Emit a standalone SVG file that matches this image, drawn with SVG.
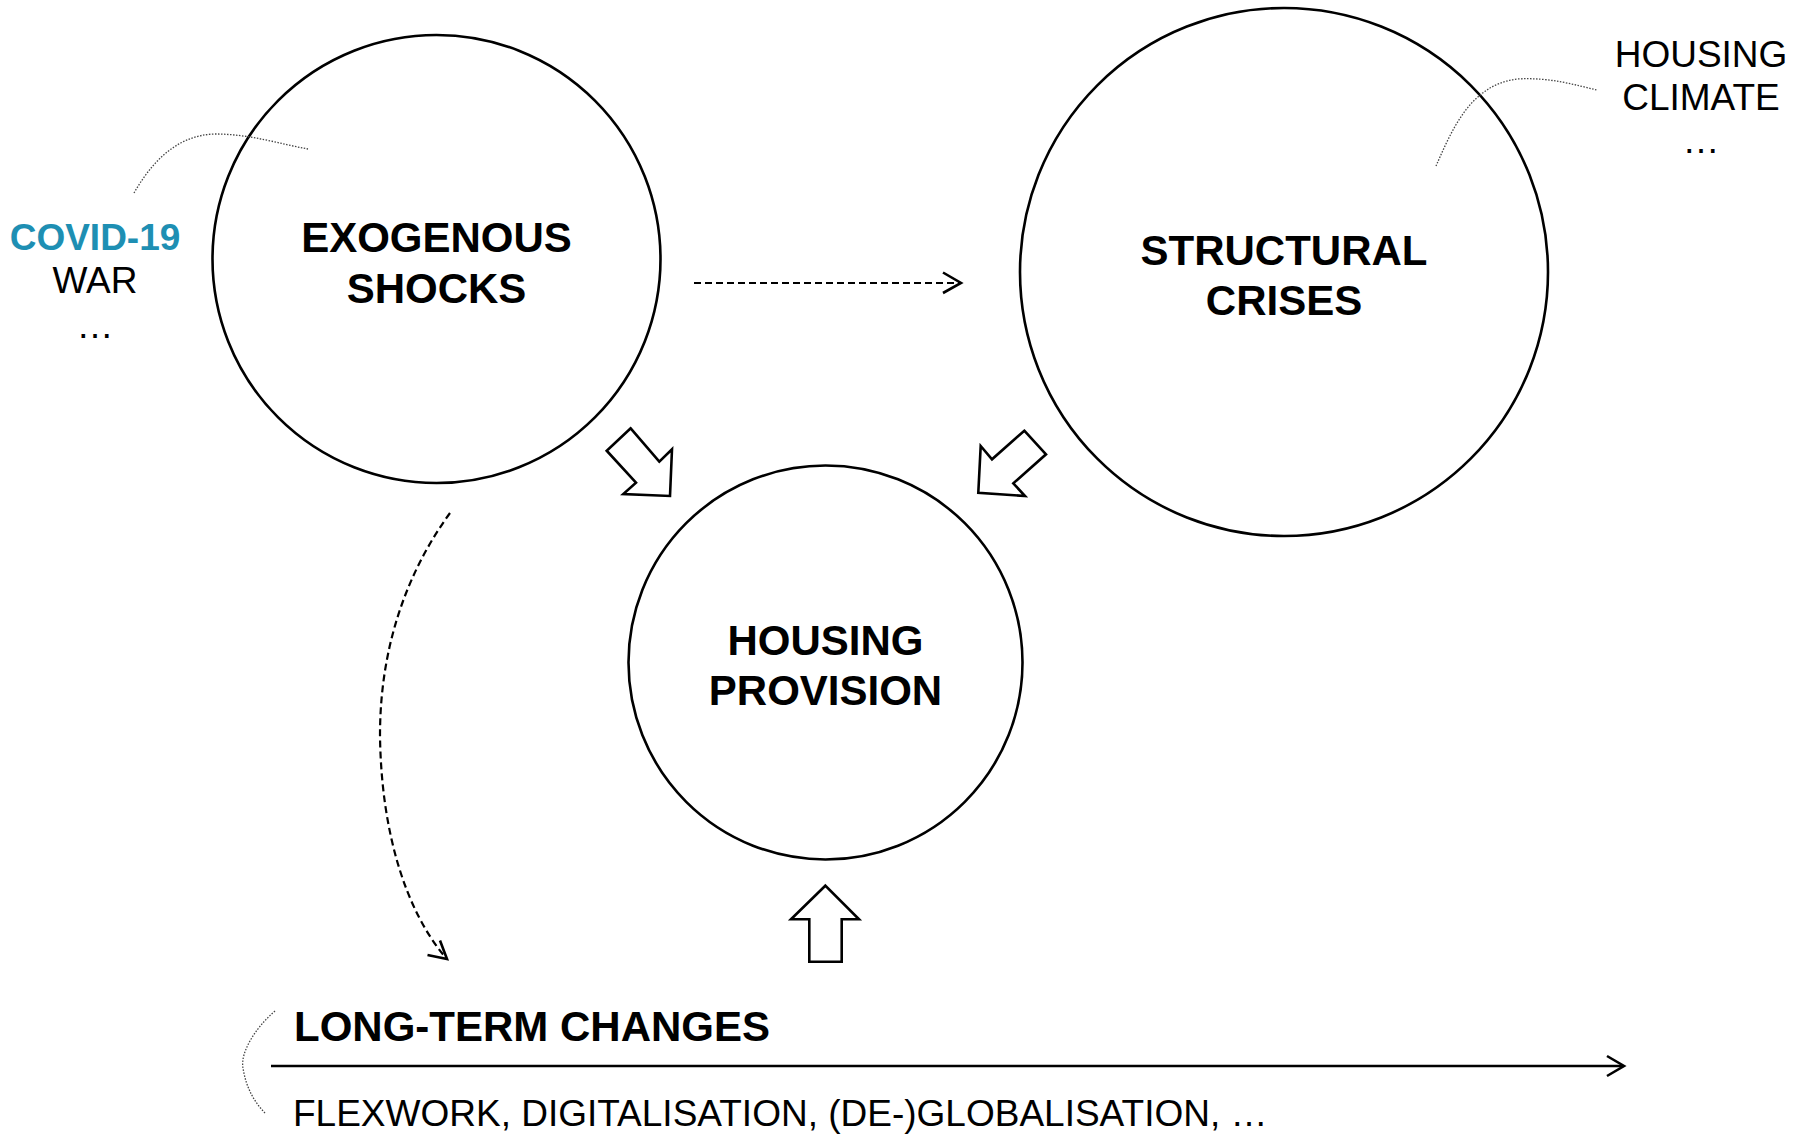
<svg xmlns="http://www.w3.org/2000/svg" width="1806" height="1134" viewBox="0 0 1806 1134">
<defs>
<style>
.node{fill:none;stroke:#000;stroke-width:2.6}
.big{font-family:"Liberation Sans",Arial,sans-serif;font-weight:bold;font-size:42px;fill:#000;text-anchor:middle}
.lbl{font-family:"Liberation Sans",Arial,sans-serif;font-size:37px;fill:#000;text-anchor:middle}
.dot{fill:none;stroke:#444;stroke-width:1.3;stroke-dasharray:1.5 1.5}
.dash{fill:none;stroke:#000;stroke-width:2.2;stroke-dasharray:7 4}
.solid{fill:none;stroke:#000;stroke-width:2.6}
.fat{fill:#fff;stroke:#000;stroke-width:2.6;stroke-linejoin:miter}
</style>
</defs>
<rect width="1806" height="1134" fill="#fff"/>

<g id="node-exogenous">
  <circle class="node" cx="436.5" cy="259" r="224"/>
  <text class="big" x="436.5" y="252">EXOGENOUS</text>
  <text class="big" x="436.5" y="303">SHOCKS</text>
</g>

<g id="node-structural">
  <circle class="node" cx="1284" cy="272" r="264"/>
  <text class="big" x="1284" y="265">STRUCTURAL</text>
  <text class="big" x="1284" y="315">CRISES</text>
</g>

<g id="node-housing">
  <circle class="node" cx="825.5" cy="662.5" r="197"/>
  <text class="big" x="825.5" y="655">HOUSING</text>
  <text class="big" x="825.5" y="705">PROVISION</text>
</g>

<g id="connectors">
  <path class="dot" d="M134,193 C150,165 175,135 215,134 C250,134 280,144 308,149"/>
  <path class="dot" d="M1436,166 C1452,130 1470,85 1517,79 C1550,77 1575,85 1597,90"/>
  <path class="dot" d="M275,1011 C255,1028 240,1053 243,1068 C246,1088 255,1103 265,1113"/>
  <line class="dash" x1="694" y1="283" x2="959" y2="283"/>
  <path class="solid" d="M943,272.5 L961,283 L943,293" stroke-width="2.4"/>
  <path class="dash" d="M450,513 C405,575 380,650 380,735 C381,830 405,910 446,958"/>
  <path class="solid" d="M427.5,955 L447,959 L440,940.5" stroke-width="2.4"/>
  <line class="solid" x1="271" y1="1066" x2="1623" y2="1066"/>
  <path class="solid" d="M1607,1056 L1624,1066 L1607,1076" stroke-width="2.2"/>
  <polygon class="fat" points="630.7,428.3 606.7,450.7 636,482.7 623.3,494 670,496 672,449.3 659.3,461.7"/>
  <polygon class="fat" points="1024.3,430.7 1046,454.3 1013.3,483.3 1025,496 978.3,492.7 980.7,446 992,459.3"/>
  <polygon class="fat" points="825.3,885.7 791,919.3 809.3,919.3 809.3,961.7 841.7,961.7 841.7,919.3 859,919.3"/>
</g>

<g id="shocks-examples">
  <text class="lbl" x="95" y="250" style="font-weight:bold;fill:#1E8FB3">COVID-19</text>
  <text class="lbl" x="95" y="293">WAR</text>
  <text class="lbl" x="95" y="338">…</text>
</g>

<g id="crises-examples">
  <text class="lbl" x="1701" y="67">HOUSING</text>
  <text class="lbl" x="1701" y="110">CLIMATE</text>
  <text class="lbl" x="1701" y="153">…</text>
</g>

<g id="long-term">
  <text class="big" x="294" y="1041" style="text-anchor:start">LONG-TERM CHANGES</text>
  <text class="lbl" x="293" y="1126" style="text-anchor:start">FLEXWORK, DIGITALISATION, (DE-)GLOBALISATION, …</text>
</g>
</svg>
